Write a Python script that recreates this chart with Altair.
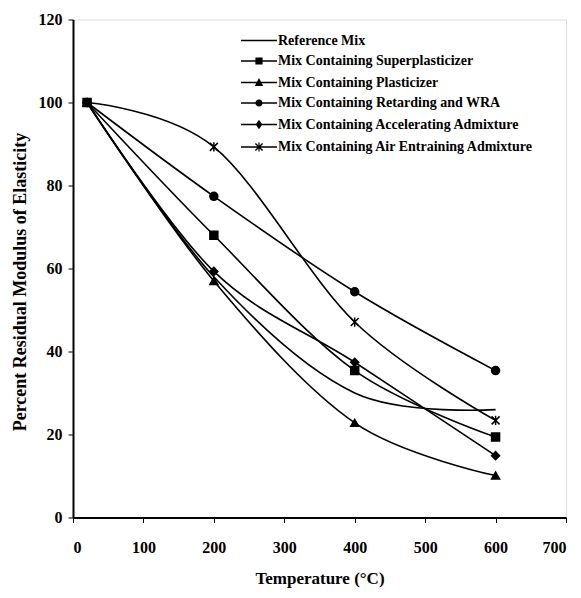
import altair as alt
import pandas as pd

temps = [20, 200, 400, 600]
series_names = [
    "Reference Mix",
    "Mix Containing Superplasticizer",
    "Mix Containing Plasticizer",
    "Mix Containing Retarding and WRA",
    "Mix Containing Accelerating Admixture",
    "Mix Containing Air Entraining Admixture",
]
reference_mix = [100, 58, 30, 26]
superplasticizer = [100, 68, 35.4, 19.4]
plasticizer = [100, 57, 22.8, 10.1]
retarding_wra = [100, 77.4, 54.4, 35.4]
accelerating = [100, 59.3, 37.4, 14.9]
air_entraining = [100, 89.3, 47.1, 23.4]

x_ticks = [0, 100, 200, 300, 400, 500, 600, 700]
y_ticks = [0, 20, 40, 60, 80, 100, 120]

all_values = [reference_mix, superplasticizer, plasticizer, retarding_wra, accelerating, air_entraining]
rows = []
for name, vals in zip(series_names, all_values):
    for t, v in zip(temps, vals):
        rows.append({"series": name, "temp": t, "value": v})
df = pd.DataFrame(rows)

FONT = "Liberation Serif"

x_enc = alt.X("temp:Q", scale=alt.Scale(domain=[0, 700], nice=False),
              axis=alt.Axis(values=x_ticks, title="Temperature (°C)", grid=False,
                            labelFont=FONT, labelFontWeight="bold", labelFontSize=16,
                            labelColor="black", labelPadding=17, tickSize=5,
                            tickColor="black", domainColor="black", domainWidth=2,
                            titleFont=FONT, titleFontWeight="bold", titleFontSize=17,
                            titleColor="black", titlePadding=15))
y_enc = alt.Y("value:Q", scale=alt.Scale(domain=[0, 120], nice=False),
              axis=alt.Axis(values=y_ticks, title="Percent Residual Modulus of Elasticity",
                            grid=False, labelFont=FONT, labelFontWeight="bold",
                            labelFontSize=16, labelColor="black", labelPadding=6,
                            tickSize=5, tickColor="black", domainColor="black",
                            domainWidth=2, titleFont=FONT, titleFontWeight="bold",
                            titleFontSize=18, titleColor="black", titlePadding=9,
                            titleY=262))

lines = alt.Chart(df).mark_line(interpolate="cardinal", color="black", strokeWidth=1.6).encode(
    x=x_enc, y=y_enc, detail="series:N"
)

marker_names = series_names[1:]
marker_shapes = ["square", "triangle-up", "circle", "diamond",
                 "M-1,-1L1,1M-1,1L1,-1M0,-1.15V1.15"]

points = alt.Chart(df).transform_filter(
    alt.datum.series != "Reference Mix"
).mark_point(filled=True, fill="black", stroke="black", size=64, strokeWidth=1.5,
             opacity=1, fillOpacity=1, strokeOpacity=1).encode(
    x="temp:Q", y="value:Q",
    shape=alt.Shape("series:N", scale=alt.Scale(domain=marker_names, range=marker_shapes),
                    legend=None),
)

# legend glyphs: a short filled bar (the line) with the series' marker on it
bar = "M-3,-0.12H3V0.12H-3Z"
legend_paths = [
    bar,
    bar + "M-0.6,-0.6H0.6V0.6H-0.6Z",
    bar + "M0,-0.75L0.7,0.6H-0.7Z",
    bar + "M-0.6,0A0.6,0.6 0 1,1 0.6,0A0.6,0.6 0 1,1 -0.6,0Z",
    bar + "M0,-0.8L0.55,0L0,0.8L-0.55,0Z",
    bar + "M0.515,0.685L-0.685,-0.515L-0.515,-0.685L0.685,0.515Z"
          "M-0.515,0.685L-0.685,0.515L0.515,-0.685L0.685,-0.515Z"
          "M-0.1,-0.75H0.1V0.75H-0.1Z",
]

legend_layer = alt.Chart(df).mark_point(filled=True, fill="black", size=144, opacity=0).encode(
    x="temp:Q", y="value:Q",
    shape=alt.Shape("series:N", scale=alt.Scale(domain=series_names, range=legend_paths),
                    legend=alt.Legend(title=None, orient="none", legendX=179, legendY=14,
                                      symbolSize=144, symbolOpacity=1,
                                      symbolFillColor="black", labelFont=FONT,
                                      labelFontWeight="bold", labelFontSize=14,
                                      labelColor="black", labelLimit=400,
                                      labelOffset=12, rowPadding=6.5)),
)

chart = alt.layer(lines, points, legend_layer).resolve_scale(shape="independent").properties(
    width=493, height=498,
    autosize=alt.AutoSizeParams(type="none"),
    padding={"left": 65, "top": 11.5, "right": 7, "bottom": 72.5},
).configure_view(stroke="black", strokeWidth=1.5).configure(background="white")

chart.save("out.html", embed_options={"renderer": "svg", "actions": False})
